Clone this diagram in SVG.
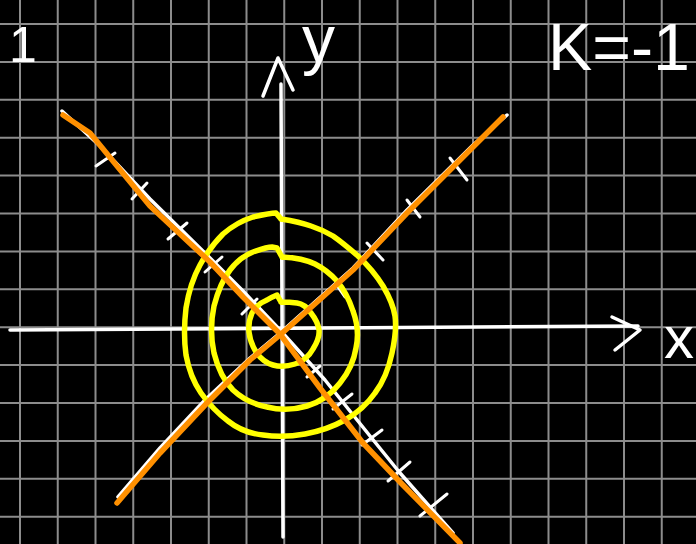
<svg xmlns="http://www.w3.org/2000/svg" width="696" height="544" viewBox="0 0 696 544">
<style>
.grid line{stroke:#8c8c8c;stroke-width:2}
.wh{fill:none;stroke:#fff;stroke-width:3.5;stroke-linecap:round;stroke-linejoin:round}
.tick{fill:none;stroke:#fff;stroke-width:3;stroke-linecap:round}
.yel{fill:none;stroke:#ffff00;stroke-width:5.5;stroke-linecap:round;stroke-linejoin:round}
.org{fill:none;stroke:#ff9000;stroke-width:5.5;stroke-linecap:round;stroke-linejoin:round}
.lbl{fill:#fff;font-family:"Liberation Sans",Arial,sans-serif}
</style>
<rect width="696" height="544" fill="#000"/>
<g class="grid" id="grid">
<line x1="20" y1="0" x2="20" y2="544"/><line x1="57.75" y1="0" x2="57.75" y2="544"/><line x1="95.5" y1="0" x2="95.5" y2="544"/><line x1="133.25" y1="0" x2="133.25" y2="544"/><line x1="171" y1="0" x2="171" y2="544"/><line x1="208.75" y1="0" x2="208.75" y2="544"/><line x1="246.5" y1="0" x2="246.5" y2="544"/><line x1="284.25" y1="0" x2="284.25" y2="544"/><line x1="322" y1="0" x2="322" y2="544"/><line x1="359.75" y1="0" x2="359.75" y2="544"/><line x1="397.5" y1="0" x2="397.5" y2="544"/><line x1="435.25" y1="0" x2="435.25" y2="544"/><line x1="473" y1="0" x2="473" y2="544"/><line x1="510.75" y1="0" x2="510.75" y2="544"/><line x1="548.5" y1="0" x2="548.5" y2="544"/><line x1="586.25" y1="0" x2="586.25" y2="544"/><line x1="624" y1="0" x2="624" y2="544"/><line x1="661.75" y1="0" x2="661.75" y2="544"/>
<line x1="0" y1="24" x2="696" y2="24"/><line x1="0" y1="61.9" x2="696" y2="61.9"/><line x1="0" y1="99.8" x2="696" y2="99.8"/><line x1="0" y1="137.7" x2="696" y2="137.7"/><line x1="0" y1="175.6" x2="696" y2="175.6"/><line x1="0" y1="213.5" x2="696" y2="213.5"/><line x1="0" y1="251.4" x2="696" y2="251.4"/><line x1="0" y1="289.3" x2="696" y2="289.3"/><line x1="0" y1="327.2" x2="696" y2="327.2"/><line x1="0" y1="365.1" x2="696" y2="365.1"/><line x1="0" y1="403" x2="696" y2="403"/><line x1="0" y1="440.9" x2="696" y2="440.9"/><line x1="0" y1="478.8" x2="696" y2="478.8"/><line x1="0" y1="516.7" x2="696" y2="516.7"/>
</g>
<g id="axes">
<path class="wh" d="M10,330 L638,326"/>
<path class="wh" stroke-width="4.5" d="M612,317 L640,330 L615,350"/>
<path class="wh" d="M281,84 L283,537"/>
<path class="wh" stroke-width="4.5" d="M263,96 L278,58 L293,90"/>
</g>
<g id="guides">
<polyline class="wh" points="62,111 100,146 150,199 210,258 243,291 280,330 325,380 370,436 400,473 453,533"/>
<polyline class="wh" points="118,497 160,448 205,400 250,358 280,333 353,268 407,210 473,145 507,115"/>
<g class="tick">
<path d="M96,166 L115,153"/><path d="M132,199 L147,183"/><path d="M168,239 L187,223"/><path d="M205,272 L222,257"/><path d="M242,314 L257,299"/>
<path d="M307,377 L320,366"/><path d="M333,409 L352,394"/><path d="M362,445 L382,430"/><path d="M388,481 L410,462"/><path d="M420,516 L447,494"/>
<path d="M450,158 L467,180"/><path d="M407,200 L420,217"/><path d="M367,243 L383,260"/><path d="M338,287 L345,297"/>
</g>
</g>
<g id="spiral">
<path class="yel" d="M281,302 Q290,302 297,303 Q305,304 311,313 Q318,322 319,330 Q320,338 313,349 Q307,360 295,364 Q283,368 273,365 Q263,362 256,352 Q250,342 249,332 Q248,322 252,313 Q257,304 267,300 Q272,297 277,295 L281,302"/>
<path class="yel" d="M282,257 Q303,258 315,264 Q327,270 337,281 Q347,293 353,311 Q360,330 356,348 Q353,367 340,383 Q327,400 307,406 Q287,412 267,407 Q247,403 233,390 Q220,377 214,353 Q209,330 214,306 Q220,283 230,270 Q240,257 253,252 Q267,247 272,247 L277,248 L282,257"/>
<path class="yel" d="M281,219 Q300,222 311,226 Q323,230 333,236 Q343,243 358,256 Q373,270 383,286 Q393,303 395,316 Q397,330 392,353 Q387,377 375,393 Q363,410 345,420 Q327,430 305,434 Q283,438 263,435 Q243,433 228,421 Q213,410 201,393 Q190,377 186,355 Q183,333 186,308 Q190,283 200,265 Q210,247 223,234 Q237,222 253,217 Q270,213 276,213 L281,219"/>
</g>
<g id="lines">
<polyline class="org" points="63,115 90,133 117,166 150,206 210,262 243,297 280,334 320,388 363,443 400,482 460,543"/>
<polyline class="org" points="117,503 160,453 207,403 250,360 280,335 353,270 407,213 430,190 473,147 503,117"/>
</g>
<g id="labels">
<text class="lbl" x="9" y="62" font-size="50">1</text>
<text class="lbl" x="548" y="70" font-size="66" textLength="142" lengthAdjust="spacingAndGlyphs">K=-1</text>
<text class="lbl" x="302" y="62" font-size="66">y</text>
<text class="lbl" x="664" y="358" font-size="60">x</text>
</g>
</svg>
